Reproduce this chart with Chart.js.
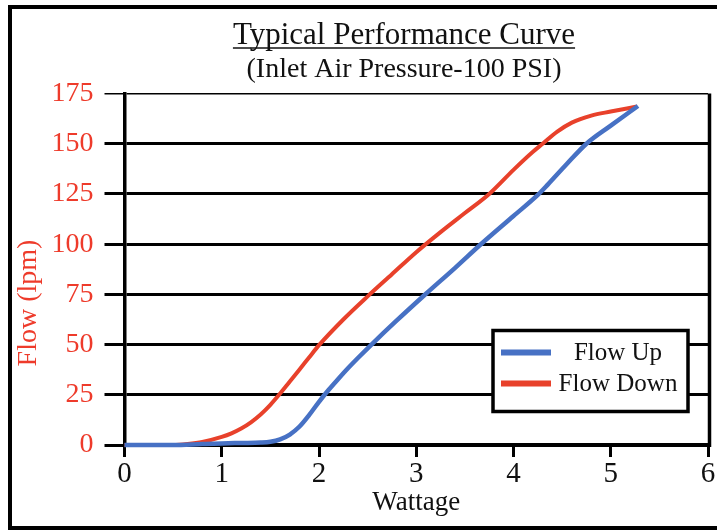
<!DOCTYPE html>
<html>
<head>
<meta charset="utf-8">
<script src="https://cdn.jsdelivr.net/npm/chart.js@4/dist/chart.umd.min.js"></script>
<style>
  html, body { margin: 0; padding: 0; background: #ffffff; }
  #wrap { width: 717px; height: 531px; position: relative; }
</style>
</head>
<body>
<div id="wrap"><canvas id="c" width="717" height="531"></canvas></div>
<script>
// ---- Data ----
const chartTitle = "Typical Performance Curve";
const chartSubtitle = "(Inlet Air Pressure-100 PSI)";
const xAxisTitle = "Wattage";
const yAxisTitle = "Flow (lpm)";
const seriesLabels = ["Flow Up", "Flow Down"];

const upWattage = [0, 0.5, 0.8, 1.0, 1.2, 1.4, 1.5, 1.6, 1.7, 1.8, 1.9, 2.0, 2.1, 2.2, 2.3, 2.4, 2.55, 2.8, 3.1, 3.4, 3.65, 4.0, 4.25, 4.35, 4.55, 4.75, 5.0, 5.28];
const upFlow    = [0, 0,   0.5, 0.8, 1,   1.2, 1.6, 2.8, 5.2, 9.2, 15,  21.5, 27.5, 33, 38.3, 43.3, 50.5, 62, 75.3, 88.2, 99.3, 114, 124.5, 129.5, 140, 150, 159, 168.8];

const downWattage = [0, 0.5, 0.65, 0.8, 1.0, 1.1, 1.2, 1.3, 1.4, 1.5, 1.6, 1.7, 1.8, 1.9, 2.0, 2.25, 2.5, 2.75, 3.0, 3.25, 3.5, 3.75, 4.0, 4.2, 4.3, 4.45, 4.6, 4.8, 5.0, 5.27];
const downFlow    = [0, 0,   0.5,  1.5, 4,   5.8, 8.2, 11.3, 15.2, 20, 25.6, 31.6, 37.6, 43.7, 49.7, 62.5, 74, 85, 96, 106, 115.5, 125, 137, 146, 150, 156, 160.5, 164, 166, 168.5];

const xTickValues = [0, 1, 2, 3, 4, 5, 6];
const yTickValues = [0, 25, 50, 75, 100, 125, 150, 175];

// ---- Styles ----
const SERIF = '"Liberation Serif", "Times New Roman", serif';
const RED_TEXT = '#ee3b2b';
const BLUE = '#4771c4';
const RED = '#e8412b';

function pts(xs, ys) { return xs.map((x, i) => ({ x: x, y: ys[i] })); }

const framePlugin = {
  id: 'frame',
  beforeDraw(chart) {
    const ctx = chart.ctx;
    ctx.save();
    ctx.fillStyle = '#ffffff';
    ctx.fillRect(0, 0, chart.width, chart.height);
    ctx.strokeStyle = '#000000';
    ctx.lineWidth = 4;
    ctx.strokeRect(10, 7, 720, 521);
    ctx.restore();
  },
  afterDraw(chart) {
    const ctx = chart.ctx;
    const a = chart.chartArea;
    ctx.save();
    // right border of plot
    ctx.strokeStyle = '#000000';
    ctx.lineWidth = 3.5;
    ctx.beginPath();
    ctx.moveTo(a.right + 1.5, a.top);
    ctx.lineTo(a.right + 1.5, a.bottom + 2);
    ctx.stroke();

    // titles
    const cx = 404;
    ctx.fillStyle = '#111111';
    ctx.textAlign = 'center';
    ctx.textBaseline = 'alphabetic';
    ctx.font = '31px ' + SERIF;
    ctx.fillText(chartTitle, cx, 44);
    const w = ctx.measureText(chartTitle).width;
    ctx.strokeStyle = '#111111';
    ctx.lineWidth = 1.6;
    ctx.beginPath();
    ctx.moveTo(cx - w / 2, 48);
    ctx.lineTo(cx + w / 2, 48);
    ctx.stroke();
    ctx.font = '28px ' + SERIF;
    ctx.fillText(chartSubtitle, cx, 77);

    // y axis title
    ctx.save();
    ctx.translate(29, 303);
    ctx.rotate(-Math.PI / 2);
    ctx.fillStyle = RED_TEXT;
    ctx.font = '28px ' + SERIF;
    ctx.textAlign = 'center';
    ctx.textBaseline = 'middle';
    ctx.fillText(yAxisTitle, 0, 0);
    ctx.restore();

    // legend box
    const bx = a.right - 215, by = a.top + 237, bw = 195, bh = 81;
    ctx.fillStyle = '#ffffff';
    ctx.fillRect(bx, by, bw, bh);
    ctx.strokeStyle = '#000000';
    ctx.lineWidth = 3.5;
    ctx.strokeRect(bx, by, bw, bh);
    const ds = chart.data.datasets;
    ds.forEach((d, i) => {
      const ly = by + 22 + i * 31;
      ctx.strokeStyle = d.borderColor;
      ctx.lineWidth = 6;
      ctx.lineCap = 'butt';
      ctx.beginPath();
      ctx.moveTo(bx + 8, ly);
      ctx.lineTo(bx + 58, ly);
      ctx.stroke();
      ctx.fillStyle = '#111111';
      ctx.font = '25px ' + SERIF;
      ctx.textAlign = 'center';
      ctx.textBaseline = 'middle';
      ctx.fillText(d.label, bx + 125, ly + 1);
    });
    ctx.restore();
  }
};

new Chart(document.getElementById('c'), {
  type: 'line',
  data: {
    datasets: [
      {
        label: seriesLabels[0],
        data: pts(upWattage, upFlow),
        borderColor: BLUE,
        backgroundColor: BLUE,
        borderWidth: 4.5,
        pointRadius: 0,
        cubicInterpolationMode: 'monotone',
        clip: 6
      },
      {
        label: seriesLabels[1],
        data: pts(downWattage, downFlow),
        borderColor: RED,
        backgroundColor: RED,
        borderWidth: 4,
        pointRadius: 0,
        cubicInterpolationMode: 'monotone',
        clip: 6
      }
    ]
  },
  options: {
    responsive: false,
    animation: false,
    devicePixelRatio: 1,
    layout: { padding: { top: 93.5, left: 10, right: 9, bottom: 10 } },
    plugins: {
      legend: { display: false },
      title: { display: false },
      tooltip: { enabled: false }
    },
    scales: {
      x: {
        type: 'linear',
        min: 0,
        max: 6,
        afterBuildTicks: (s) => { s.ticks = xTickValues.map(v => ({ value: v })); },
        afterFit: (s) => { s.height = 76; },
        ticks: {
          color: '#111111',
          font: { family: SERIF, size: 29 },
          padding: 0,
          maxRotation: 0
        },
        grid: {
          drawOnChartArea: false,
          drawTicks: true,
          tickLength: 12,
          color: '#000000',
          lineWidth: 3
        },
        border: { display: true, color: '#000000', width: 4 },
        title: {
          display: true,
          text: xAxisTitle,
          color: '#111111',
          font: { family: SERIF, size: 27 },
          padding: { top: 0, bottom: 2 }
        }
      },
      y: {
        type: 'linear',
        min: 0,
        max: 175,
        afterBuildTicks: (s) => { s.ticks = yTickValues.map(v => ({ value: v })); },
        afterFit: (s) => { s.width = 114.5; },
        ticks: {
          color: RED_TEXT,
          font: { family: SERIF, size: 28 },
          padding: 11
        },
        grid: {
          drawOnChartArea: true,
          drawTicks: true,
          tickLength: 20,
          color: '#000000',
          lineWidth: (ctx) => (ctx.tick && ctx.tick.value === 175 ? 1.5 : 3)
        },
        border: { display: true, color: '#000000', width: 3.5 },
        title: { display: false }
      }
    }
  },
  plugins: [framePlugin]
});
</script>
</body>
</html>
